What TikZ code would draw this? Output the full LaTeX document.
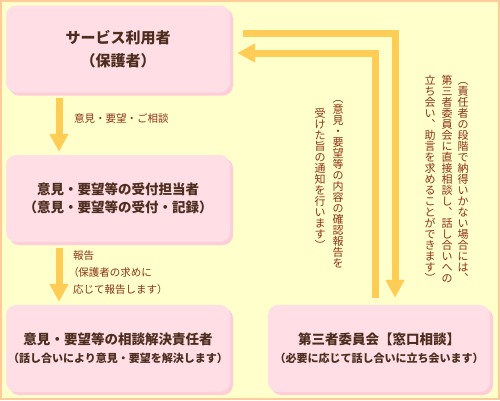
\documentclass[tikz,border=0pt]{standalone}
\usepackage{fontspec}
\setmainfont{Noto Sans CJK JP}
\usetikzlibrary{arrows.meta}
\definecolor{bgc}{HTML}{FFFFCC}
\definecolor{framec}{HTML}{FFCC99}
\definecolor{boxc}{HTML}{FFDEE6}
\definecolor{shadc}{HTML}{FFCCDA}
\definecolor{boxtext}{HTML}{4D2D1E}
\definecolor{labtext}{HTML}{8E3214}
\definecolor{arrc}{HTML}{FFCC55}
\makeatletter
\newcommand\vcolumn[1]{\vbox{\offinterlineskip\vcol@loop#1\relax}}
\def\vcol@loop#1{\ifx#1\relax\else\setbox0=\hbox to 11pt{\hss#1\hss}\ht0=9.68pt\dp0=1.32pt\box0 \expandafter\vcol@loop\fi}
\makeatother
\newcommand\pparen[1]{{\addfontfeature{RawFeature=+palt}#1}}
\begin{document}
\begin{tikzpicture}[x=1pt,y=-1pt,
  box/.style={rectangle, rounded corners=10pt, fill=boxc, inner sep=0pt,
    minimum width=224pt, minimum height=87pt, text=boxtext, align=center,
    preaction={fill=shadc, transform canvas={shift={(3pt,-3pt)}}}},
  arr/.style={draw=arrc, line width=7pt, line join=miter, -{Triangle[width=18pt,length=18pt]}},
  lab/.style={text=labtext, inner sep=0pt, anchor=west, font=\fontsize{10.5}{17}\selectfont, align=left},
  vtext/.style={text=labtext, inner sep=0pt, anchor=north, font=\fontsize{11}{11}\selectfont}]
\fill[bgc] (0,0) rectangle (500,400);
\draw[framec, line width=2pt] (1,1) rectangle (499,399);
\useasboundingbox (0,0) rectangle (500,400);

\node[box, font=\bfseries\fontsize{15}{23}\selectfont] (b1) at (118,49) {サービス利用者\\（保護者）};
\node[box, font=\bfseries\fontsize{13.5}{18}\selectfont] (b2) at (118,198.5) {意見・要望等の受付担当者\\（意見・要望等の受付・記録）};
\node[box, font=\bfseries\fontsize{13.5}{18}\selectfont] (b3) at (118,348.5) {意見・要望等の相談解決責任者\\\fontsize{11}{18}\selectfont（話し合いにより意見・要望を解決します）};
\node[box, font=\bfseries\fontsize{13.5}{18}\selectfont, minimum width=222pt] (b4) at (379,348.5) {第三者委員会【窓口相談】\\\fontsize{11}{18}\selectfont（必要に応じて話し合いに立ち会います）};

\coordinate (c1) at (59,0);
\coordinate (pA) at (395,33);
\coordinate (pB) at (375,53);

\draw[arr] ([yshift=-5.5pt]b1.south -| c1) -- ([yshift=3pt]b2.north -| c1);
\draw[arr] ([yshift=-6pt]b2.south -| c1) -- ([yshift=3pt]b3.north -| c1);
\draw[arr] ([xshift=13pt]b1.east |- pA) -- (pA) -- ([yshift=7pt]b4.north -| pA);
\draw[arr] ([yshift=7pt]b4.north -| pB) -- (pB) -- ([xshift=7pt]b1.east |- pB);

\node[lab] (l1) at (74,118) {意見・要望・ご相談};
\node[lab, anchor=north west] (l2) at (73,250) {報告\\\pparen{（}保護者の求めに\\応じて報告します）};

\node[vtext] (v1) at (338,93) {\vcolumn{︵意見・要望等の内容の確認報告を}};
\node[vtext] (v2) at (320,108) {\vcolumn{受けた旨の通知を行います︶}};
\node[vtext] (v3) at (463,75) {\vcolumn{︵責任者の段階で納得いかない場合には︑}};
\node[vtext] (v4) at (447,75) {\vcolumn{第三者委員会に直接相談し︑話し合いへの}};
\node[vtext] (v5) at (430,75) {\vcolumn{立ち会い︑助言を求めることができます︶}};
\end{tikzpicture}
\end{document}
